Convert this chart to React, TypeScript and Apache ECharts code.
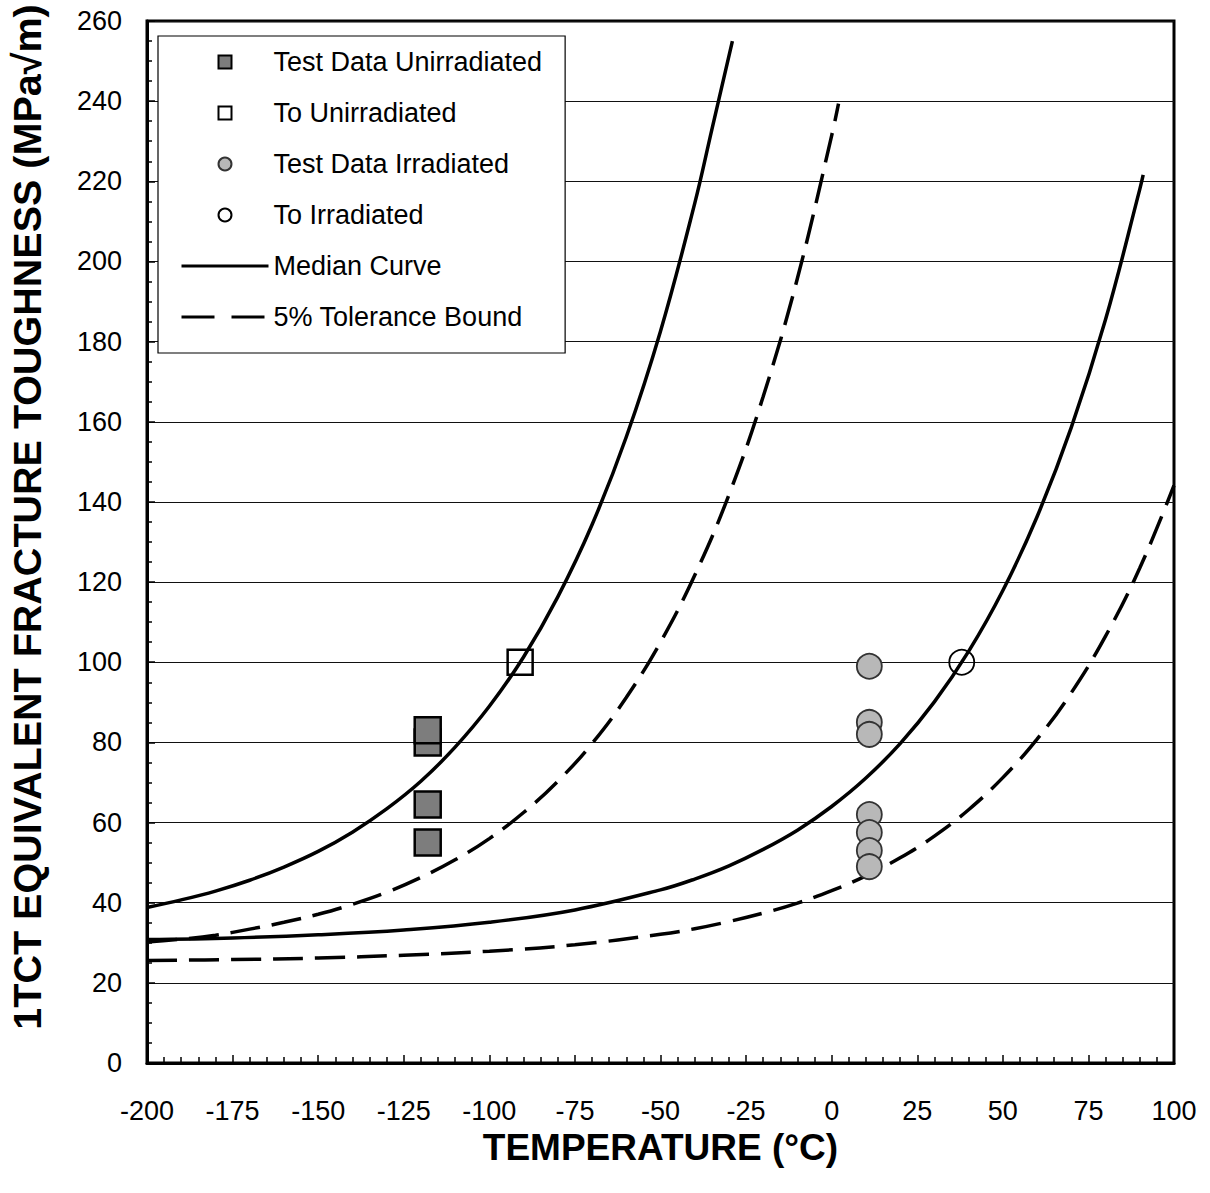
import React, { useEffect, useRef } from "react";
import * as echarts from "echarts";

// ---------- data ----------
const xTicksMin = -200;
const xTicksMax = 100;
const yTicksMin = 0;
const yTicksMax = 260;

// Unirradiated test data (temperature °C, K_Jc MPa√m)
const unirrTestT = [-118, -118, -118, -118];
const unirrTestK = [80, 83, 64.5, 55];

// T0 unirradiated
const toUnirrT = [-91];
const toUnirrK = [100];

// Irradiated test data
const irrTestT = [11, 11, 11, 11, 11, 11, 11];
const irrTestK = [99, 85, 82, 62, 57.5, 53, 49];

// T0 irradiated
const toIrrT = [38];
const toIrrK = [100];

// Unirradiated median curve
const uMedT = [-200, -190, -180, -170, -160, -150, -140, -130, -120, -110, -100, -90, -80, -70, -60, -50, -40, -35, -29];
const uMedK = [38.8, 40.7, 42.9, 45.6, 48.9, 52.8, 57.6, 63.4, 70.3, 78.8, 89.0, 101.3, 116.3, 134.3, 156.2, 182.6, 214.5, 232.9, 255];

// Unirradiated 5% tolerance bound
const uLowT = [-200, -190, -180, -170, -160, -150, -140, -130, -120, -110, -100, -90, -80, -70, -60, -50, -40, -30, -20, -10, 0, 2];
const uLowK = [30.2, 30.9, 31.9, 33.4, 35.1, 37.1, 39.6, 42.6, 46.3, 50.7, 56.0, 62.5, 70.3, 79.7, 91.2, 105.0, 121.7, 141.8, 166.3, 195.8, 231.4, 239.4];

// Irradiated median curve
const iMedT = [-200, -175, -150, -125, -100, -75, -50, -40, -30, -20, -10, 0, 10, 20, 30, 40, 50, 60, 70, 80, 90, 91];
const iMedK = [30.8, 31.2, 32.0, 33.2, 35.1, 38.2, 43.2, 45.9, 49.2, 53.3, 58.1, 64.0, 71.1, 79.7, 90.1, 102.7, 117.9, 136.3, 158.6, 185.5, 218.0, 221.6];

// Irradiated 5% tolerance bound
const iLowT = [-200, -175, -150, -125, -100, -75, -50, -40, -30, -20, -10, 0, 10, 20, 30, 40, 50, 60, 70, 80, 90, 100];
const iLowK = [25.6, 25.8, 26.2, 26.9, 27.9, 29.5, 32.1, 33.5, 35.3, 37.4, 39.9, 43.0, 46.7, 51.2, 56.6, 63.2, 71.2, 80.8, 92.4, 106.5, 123.5, 144.1];

const legendNames = [
  "Test Data Unirradiated",
  "To Unirradiated",
  "Test Data Irradiated",
  "To Irradiated",
  "Median Curve",
  "5% Tolerance Bound",
];

const xTitle = "TEMPERATURE (°C)";
const yTitle = "1TCT EQUIVALENT FRACTURE TOUGHNESS (MPa√m)";

const FONT = "'Liberation Sans', Arial, Helvetica, sans-serif";
const SQUARE_ICON = "path://M0 0H10V10H0Z";

const zip = (a: number[], b: number[]) => a.map((v, i) => [v, b[i]]);

export default function App() {
  const ref = useRef<HTMLDivElement>(null);

  useEffect(() => {
    if (!ref.current) return;
    const chart = echarts.init(ref.current, null, { renderer: "svg" });

    const curveStyle = (dashed: boolean) => ({
      color: "#000",
      width: 3.5,
      type: dashed ? [30, 12] : "solid",
    });

    const hiddenDot = { color: "rgba(0,0,0,0)", borderWidth: 0, opacity: 0 };

    const option: any = {
      animation: false,
      backgroundColor: "#fff",
      grid: {
        left: 147,
        right: 36,
        top: 21,
        bottom: 130,
        show: true,
        borderColor: "#000",
        borderWidth: 3,
        backgroundColor: "transparent",
      },
      xAxis: {
        type: "value",
        min: xTicksMin,
        max: xTicksMax,
        interval: 25,
        name: xTitle,
        nameLocation: "middle",
        nameGap: 60,
        nameTextStyle: {
          fontFamily: FONT,
          fontWeight: "bold",
          fontSize: 37,
          color: "#000",
          lineHeight: 37,
        },
        axisLine: { show: true, onZero: false, lineStyle: { color: "#000", width: 3 } },
        axisTick: { show: true, inside: true, length: 8, lineStyle: { color: "#000", width: 1.5 } },
        minorTick: { show: true, splitNumber: 5, length: 6, lineStyle: { color: "#000", width: 1.5 } },
        axisLabel: {
          fontFamily: FONT,
          fontSize: 27,
          color: "#000",
          margin: 34,
        },
        splitLine: { show: false },
      },
      yAxis: {
        type: "value",
        min: yTicksMin,
        max: yTicksMax,
        interval: 20,
        axisLine: { show: true, onZero: false, lineStyle: { color: "#000", width: 3 } },
        axisTick: { show: true, inside: true, length: 8, lineStyle: { color: "#000", width: 1.5 } },
        minorTick: { show: true, splitNumber: 4, length: 5, lineStyle: { color: "#000", width: 1.5 } },
        axisLabel: {
          fontFamily: FONT,
          fontSize: 27,
          color: "#000",
          margin: 25,
        },
        splitLine: { show: true, lineStyle: { color: "#111", width: 1 } },
      },
      legend: {
        left: 158,
        top: 36,
        orient: "vertical",
        selectedMode: false,
        backgroundColor: "#fff",
        borderColor: "#000",
        borderWidth: 1.2,
        borderRadius: 0,
        padding: [11, 23, 21, 22],
        itemWidth: 87,
        itemHeight: 13,
        itemGap: 21,
        symbolKeepAspect: true,
        textStyle: {
          fontFamily: FONT,
          fontSize: 27,
          color: "#000",
          lineHeight: 30,
        },
        data: [
          { name: legendNames[0], icon: SQUARE_ICON, itemStyle: { borderWidth: 2, borderColor: "#000" } },
          { name: legendNames[1], icon: SQUARE_ICON, itemStyle: { borderWidth: 2, borderColor: "#000" } },
          { name: legendNames[2], icon: "circle" },
          { name: legendNames[3], icon: "circle", itemStyle: { borderWidth: 2, borderColor: "#000" } },
          { name: legendNames[4], itemStyle: hiddenDot, lineStyle: { width: 3, color: "#000" } },
          { name: legendNames[5], itemStyle: hiddenDot, lineStyle: { width: 3, color: "#000", type: [33, 17] } },
        ],
      },
      graphic: [
        {
          type: "text",
          x: 27,
          y: 517,
          rotation: Math.PI / 2,
          style: {
            text: yTitle,
            fontFamily: FONT,
            fontWeight: "bold",
            fontSize: 39.5,
            fill: "#000",
            align: "center",
            verticalAlign: "middle",
          },
        },
      ],
      series: [
        {
          name: legendNames[4],
          type: "line",
          data: zip(uMedT, uMedK),
          smooth: 0.4,
          symbol: "none",
          lineStyle: curveStyle(false),
          z: 3,
        },
        {
          name: legendNames[5],
          type: "line",
          data: zip(uLowT, uLowK),
          smooth: 0.4,
          symbol: "none",
          lineStyle: curveStyle(true),
          z: 3,
        },
        {
          name: legendNames[4],
          type: "line",
          data: zip(iMedT, iMedK),
          smooth: 0.4,
          symbol: "none",
          lineStyle: curveStyle(false),
          z: 3,
        },
        {
          name: legendNames[5],
          type: "line",
          data: zip(iLowT, iLowK),
          smooth: 0.4,
          symbol: "none",
          lineStyle: curveStyle(true),
          z: 3,
        },
        {
          name: legendNames[0],
          type: "scatter",
          data: zip(unirrTestT, unirrTestK),
          symbol: "rect",
          symbolSize: 26,
          itemStyle: { color: "#7d7d7d", borderColor: "#000", borderWidth: 2.5, opacity: 1 },
          z: 4,
        },
        {
          name: legendNames[1],
          type: "scatter",
          data: zip(toUnirrT, toUnirrK),
          symbol: "rect",
          symbolSize: 25,
          itemStyle: { color: "rgba(255,255,255,0)", borderColor: "#000", borderWidth: 2.5, opacity: 1 },
          z: 4,
        },
        {
          name: legendNames[2],
          type: "scatter",
          data: zip(irrTestT, irrTestK),
          symbol: "circle",
          symbolSize: 25,
          itemStyle: { color: "#b8b8b8", borderColor: "#333", borderWidth: 1.8, opacity: 1 },
          z: 4,
        },
        {
          name: legendNames[3],
          type: "scatter",
          data: zip(toIrrT, toIrrK),
          symbol: "circle",
          symbolSize: 25,
          itemStyle: { color: "rgba(255,255,255,0)", borderColor: "#000", borderWidth: 1.8, opacity: 1 },
          z: 4,
        },
      ],
    };

    chart.setOption(option);
    return () => chart.dispose();
  }, []);

  return (
    <div
      ref={ref}
      style={{ position: "fixed", left: 0, top: 0, width: 1210, height: 1193, background: "#fff" }}
    />
  );
}
